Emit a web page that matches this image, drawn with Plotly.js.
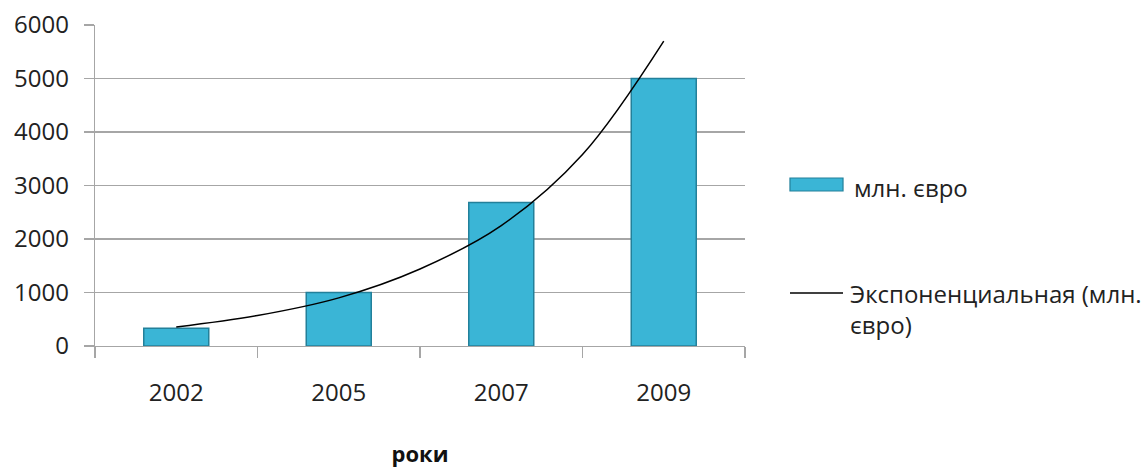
<!DOCTYPE html>
<html>
<head>
<meta charset="utf-8">
<script src="https://cdn.plot.ly/plotly-3.0.1.min.js"></script>
<style>html,body{margin:0;padding:0;background:#fff;}#chart{width:1147px;height:468px;}</style>
</head>
<body>
<div id="chart"></div>
<script>
// Data
var categories = ['2002', '2005', '2007', '2009'];
var values = [330, 1000, 2680, 5000];
// Exponential trendline at half-category steps
var trendPos = [0, 0.5, 1, 1.5, 2, 2.5, 3];
var trendValues = [355, 570, 900, 1440, 2250, 3580, 5700];
var yTicks = [0, 1000, 2000, 3000, 4000, 5000, 6000];
var seriesName = 'млн. євро';
var trendName = 'Экспоненциальная (млн.<br>євро)';

var FONT = '"Open Sans", "DejaVu Sans", sans-serif';
var BAR_COLOR = '#3ab5d6';
var BAR_EDGE = '#23809a';

var bars = {
  type: 'bar',
  x: categories,
  y: values,
  name: seriesName,
  width: 0.4,
  marker: { color: BAR_COLOR, line: { color: BAR_EDGE, width: 1.5 } },
  showlegend: false
};

var trend = {
  type: 'scatter',
  mode: 'lines',
  x: trendPos,
  y: trendValues,
  xaxis: 'x2',
  name: trendName,
  line: { color: '#000000', width: 1.5, shape: 'spline' },
  showlegend: false
};

// custom legend (paper coordinates)
var shapes = [
  { type: 'rect', xref: 'paper', yref: 'paper', x0: 1.0692, x1: 1.1508, y0: 0.4829, y1: 0.5234,
    fillcolor: BAR_COLOR, line: { color: BAR_EDGE, width: 1.2 } },
  { type: 'line', xref: 'paper', yref: 'paper', x0: 1.0692, x1: 1.1508, y0: 0.1651, y1: 0.1651,
    line: { color: '#000000', width: 1.3 } }
];
var annotations = [
  { xref: 'paper', yref: 'paper', x: 1.1646, y: 0.4953, xanchor: 'left', yanchor: 'middle',
    text: seriesName, showarrow: false, font: { family: FONT, size: 24, color: '#222222' } },
  { xref: 'paper', yref: 'paper', x: 1.1585, y: 0.222, xanchor: 'left', yanchor: 'top', align: 'left',
    text: trendName, showarrow: false, font: { family: FONT, size: 24, color: '#222222' } }
];

var layout = {
  width: 1147,
  height: 468,
  margin: { l: 95, r: 402, t: 25, b: 122 },
  paper_bgcolor: '#ffffff',
  plot_bgcolor: '#ffffff',
  font: { family: FONT, size: 24, color: '#222222' },
  showlegend: false,
  shapes: shapes,
  annotations: annotations,
  xaxis: {
    type: 'category',
    range: [-0.5, 3.5],
    showgrid: false,
    showline: true,
    linecolor: '#a6a6a6',
    linewidth: 1.3,
    ticks: 'outside',
    tickson: 'boundaries',
    ticklen: 11,
    tickcolor: '#a6a6a6',
    tickwidth: 1.3,
    ticklabelstandoff: 25,
    tickfont: { family: FONT, size: 24, color: '#222222' },
    title: { text: '<b>роки</b>', font: { family: FONT, size: 22, color: '#111111' }, standoff: 40 },
    fixedrange: true
  },
  xaxis2: {
    overlaying: 'x',
    range: [-0.5, 3.5],
    visible: false,
    fixedrange: true
  },
  yaxis: {
    range: [0, 6000],
    tickvals: yTicks,
    showgrid: true,
    gridcolor: '#a6a6a6',
    gridwidth: 1.3,
    zeroline: false,
    showline: true,
    linecolor: '#a6a6a6',
    linewidth: 1.3,
    ticks: 'outside',
    ticklen: 10,
    tickcolor: '#a6a6a6',
    tickwidth: 1.3,
    ticklabelstandoff: 10,
    tickfont: { family: FONT, size: 24, color: '#222222' },
    fixedrange: true
  }
};

Plotly.newPlot('chart', [bars, trend], layout, { staticPlot: true, displayModeBar: false });
</script>
</body>
</html>
